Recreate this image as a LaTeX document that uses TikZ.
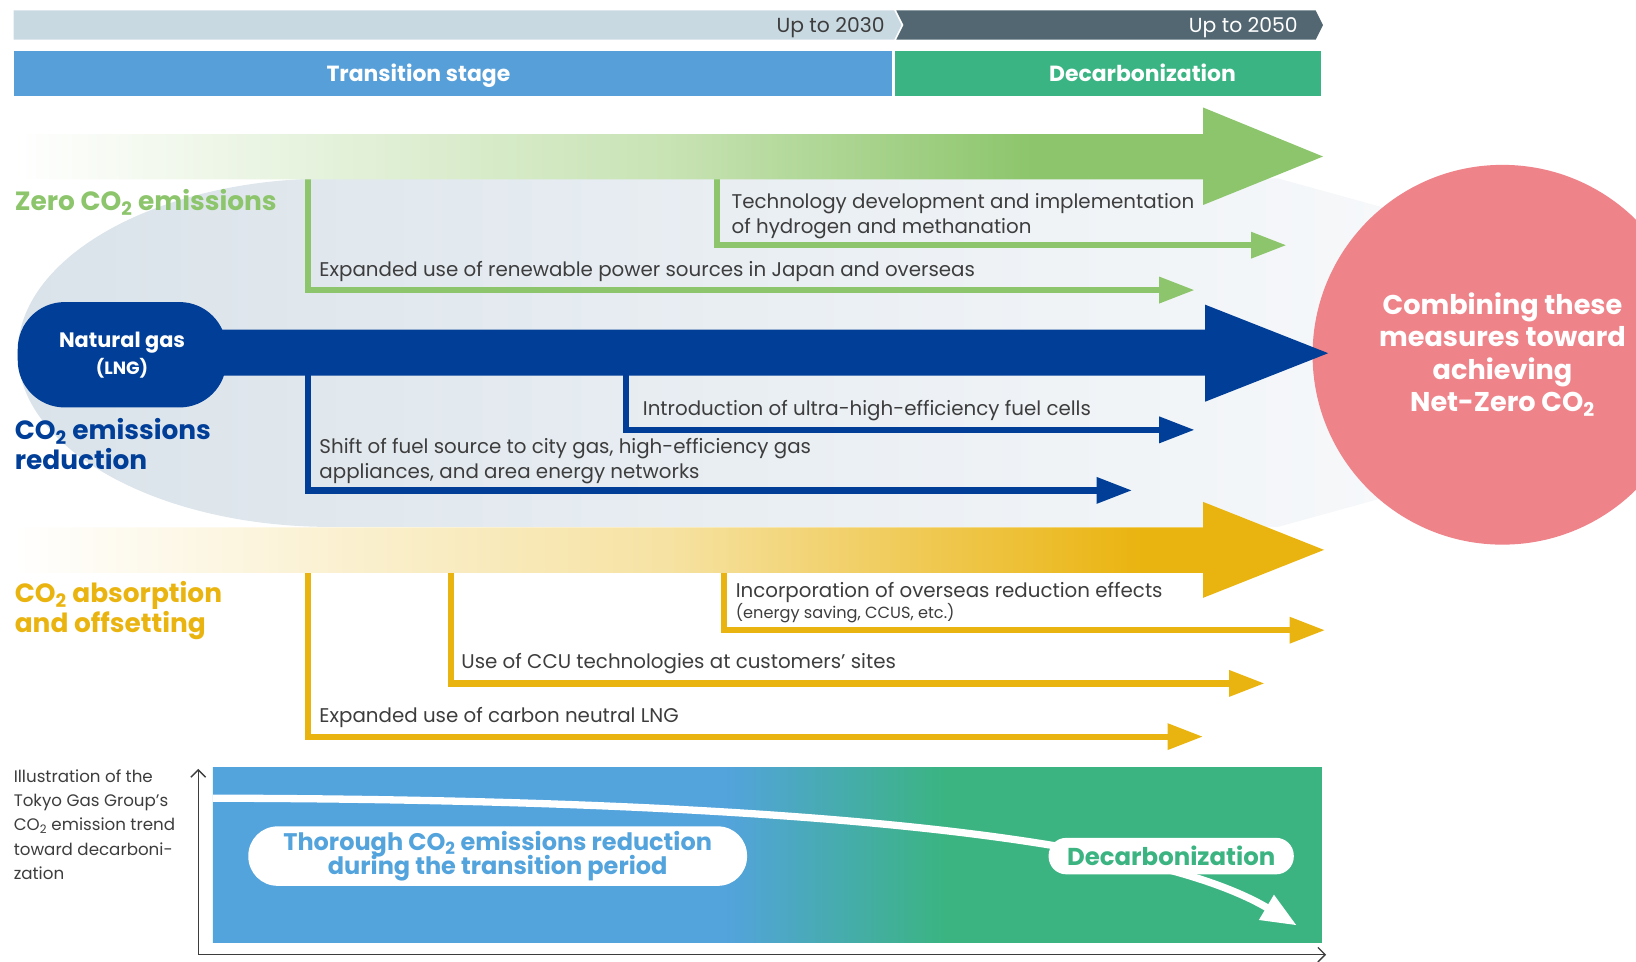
\documentclass[tikz,border=0pt]{standalone}
\usepackage{fontspec}
\setmainfont{Poppins}
\usetikzlibrary{arrows.meta, positioning, calc}

\definecolor{barlight}{HTML}{C9D9E2}
\definecolor{bardark}{HTML}{526771}
\definecolor{transblue}{HTML}{579FD8}
\definecolor{decgreen}{HTML}{3AB483}
\definecolor{zgreen}{HTML}{8CC56B}
\definecolor{zgreenmid}{HTML}{C8E3B4}
\definecolor{nblue}{HTML}{003E97}
\definecolor{ygold}{HTML}{EAB410}
\definecolor{ygoldmid}{HTML}{F6E2A2}
\definecolor{netpink}{HTML}{EE838A}
\definecolor{bgleft}{HTML}{DAE3EA}
\definecolor{bgright}{HTML}{F6F8FA}
\definecolor{txtgrey}{HTML}{3D3D3D}
\definecolor{chartblue}{HTML}{53A3DD}
\definecolor{chartgreen}{HTML}{3BB482}

% horizontal fades (25bp..75bp span the path)
\pgfdeclarehorizontalshading{zeroshade}{100bp}{color(0bp)=(white); color(25bp)=(white); color(50bp)=(zgreenmid); color(64bp)=(zgreen); color(100bp)=(zgreen)}
\pgfdeclarehorizontalshading{absorbshade}{100bp}{color(0bp)=(white); color(25bp)=(white); color(50bp)=(ygoldmid); color(68bp)=(ygold); color(100bp)=(ygold)}
\pgfdeclarehorizontalshading{trendshade}{100bp}{color(0bp)=(chartblue); color(48bp)=(chartblue); color(58bp)=(chartgreen); color(100bp)=(chartgreen)}

\newcommand\cotwo{CO\textsubscript{2}}

\tikzset{
  measurearrow/.style={line width=6pt, -{Triangle[length=34pt,width=24pt]}},
  itemtext/.style={anchor=base west, inner sep=0pt, text=txtgrey, align=left, font=\fontsize{19}{24}\selectfont},
  headtext/.style={anchor=base west, inner sep=0pt, align=left, font=\bfseries\fontsize{25.3}{28.5}\selectfont},
  bartext/.style={anchor=base east, inner sep=0pt, font=\fontsize{19.5}{20}\selectfont},
  stagetext/.style={anchor=base, inner sep=0pt, text=white, font=\bfseries\fontsize{21}{24}\selectfont},
  pill/.style={fill=white, rounded corners=#1, inner sep=0pt, align=center},
  axisline/.style={line width=1.3pt, draw=txtgrey, -{Straight Barb[length=7pt,width=14pt]}}
}

\begin{document}
\begin{tikzpicture}[x=1pt, y=-1pt]
\useasboundingbox (0,0) rectangle (1568,922);
\clip (0,0) rectangle (1568,922);

% Time bars
\fill[barlight] (13,10) -- (857,10) -- (864,24) -- (857,38) -- (13,38) -- cycle;
\fill[bardark] (859,10) -- (1261,10) -- (1268,24) -- (1261,38) -- (859,38) -- (866,24) -- cycle;
\node[bartext, text=txtgrey] (upto30) at (848,31) {Up to 2030};
\node[bartext, text=white] (upto50) at (1244,31) {Up to 2050};

% Stage bars
\fill[transblue] (13,49) rectangle (855,92);
\fill[decgreen] (858,49) rectangle (1266,92);
\node[stagetext] (transstage) at (401,78) {Transition stage};
\node[stagetext] (decstage) at (1095,78) {Decarbonization};

% Background area
\shade[left color=bgleft, right color=bgright] (1330,200) -- (1225,171) -- (317,171)
  .. controls (151,171) and (17,246) .. (17,338)
  .. controls (17,430) and (151,505) .. (317,505) -- (1225,505) -- (1330,476) -- cycle;

% Measures
\coordinate (g1s) at (295,160);  \coordinate (g1e) at (1145,278);
\coordinate (g2s) at (687,160);  \coordinate (g2e) at (1233,235);
\coordinate (b1s) at (295,340);  \coordinate (b1e) at (1085,470);
\coordinate (b2s) at (600,340);  \coordinate (b2e) at (1145,412);
\coordinate (y1s) at (295,530);  \coordinate (y1e) at (1153,706);
\coordinate (y2s) at (432,530);  \coordinate (y2e) at (1212,655);
\coordinate (y3s) at (694,530);  \coordinate (y3e) at (1270,604);
\draw[measurearrow, zgreen] (g1s) |- (g1e);
\draw[measurearrow, zgreen] (g2s) |- (g2e);
\draw[measurearrow, nblue] (b1s) |- (b1e);
\draw[measurearrow, nblue] (b2s) |- (b2e);
\draw[measurearrow, ygold] (y1s) |- (y1e);
\draw[measurearrow, ygold] (y2s) |- (y2e);
\draw[measurearrow, ygold] (y3s) |- (y3e);

% Goal circle
\node[circle, fill=netpink, minimum size=364pt, inner sep=0pt, text=white, align=center,
  font=\bfseries\fontsize{26}{30.7}\selectfont] (netzero) at (1440,340)
  {Combining these\\measures toward\\achieving\\Net-Zero \cotwo};

% Zero CO2 arrow
\shade[shading=zeroshade] (13,128.5) -- (1153,128.5) -- (1153,103) -- (1268,150) -- (1153,196.5) -- (1153,172) -- (13,172) -- cycle;

% Natural gas arrow
\fill[nblue] (200,316) -- (1155,316) -- (1155,292) -- (1273,338.5) -- (1155,385) -- (1155,360) -- (200,360) -- cycle;
\node[fill=nblue, rounded corners=45pt, minimum width=200pt, minimum height=101pt, inner sep=0pt,
  text=white, align=center] (lng) at (117,340)
  {{\bfseries\fontsize{20}{24}\selectfont Natural gas}\\[4pt]{\bfseries\fontsize{17}{20}\selectfont (LNG)}};

% Offsetting arrow
\shade[shading=absorbshade] (13,505.5) -- (1153,505.5) -- (1153,481) -- (1269,527) -- (1153,573) -- (1153,549) -- (13,549) -- cycle;

% Headings
\node[headtext, text=zgreen] (zerohd) at (14,202) {Zero \cotwo{} emissions};
\node[headtext, text=nblue] (reducehd) at (14,450) {\cotwo{} emissions\\reduction};
\node[headtext, text=ygold] (absorbhd) at (14,606) {\cotwo{} absorption\\and offsetting};

% Measure labels
\node[itemtext] (h2txt) at (701,224) {Technology development and implementation\\of hydrogen and methanation};
\node[itemtext] (renewtxt) at (306,265) {Expanded use of renewable power sources in Japan and overseas};
\node[itemtext] (fctxt) at (616,398) {Introduction of ultra-high-efficiency fuel cells};
\node[itemtext] (shifttxt) at (306,459) {Shift of fuel source to city gas, high-efficiency gas\\appliances, and area energy networks};
\node[itemtext] (overseastxt) at (705,573) {Incorporation of overseas reduction effects};
\node[itemtext, font=\fontsize{15.5}{16}\selectfont] (overseasnote) at (705,593) {(energy saving, CCUS, etc.)};
\node[itemtext] (ccutxt) at (442,641) {Use of CCU technologies at customers’ sites};
\node[itemtext] (cnlngtxt) at (306,692) {Expanded use of carbon neutral LNG};

% Emission trend chart
\shade[shading=trendshade] (204,736) rectangle (1267,903);
\coordinate (trendstart) at (204,765);
\coordinate (trendend) at (1243,887);
\draw[white, line width=7pt, -{Triangle[length=34pt,width=26pt]}] (trendstart) .. controls (650,766) and (1080,790) .. (trendend);
\node[pill=28pt, minimum width=478pt, minimum height=57pt, text=chartblue,
  font=\bfseries\fontsize{23}{22}\selectfont] (thorough) at (477,820.5)
  {Thorough \cotwo{} emissions reduction\\[-3.5pt]during the transition period};
\node[pill=17pt, minimum width=235pt, minimum height=35pt, text=chartgreen,
  font=\bfseries\fontsize{23.4}{24}\selectfont] (decpill) at (1122.5,820.5) {Decarbonization};

\coordinate (origin) at (190,915);
\coordinate (ytop) at (190,737);
\coordinate (xend) at (1271,915);
\draw[axisline] (origin) -- (ytop);
\draw[axisline] (origin) -- (xend);

\node[anchor=base west, inner sep=0pt, text=txtgrey, align=left, font=\fontsize{16}{23.3}\selectfont]
  (trendcap) at (13,843) {Illustration of the\\Tokyo Gas Group’s\\\cotwo{} emission trend\\toward decarboni-\\zation};

\end{tikzpicture}
\end{document}
